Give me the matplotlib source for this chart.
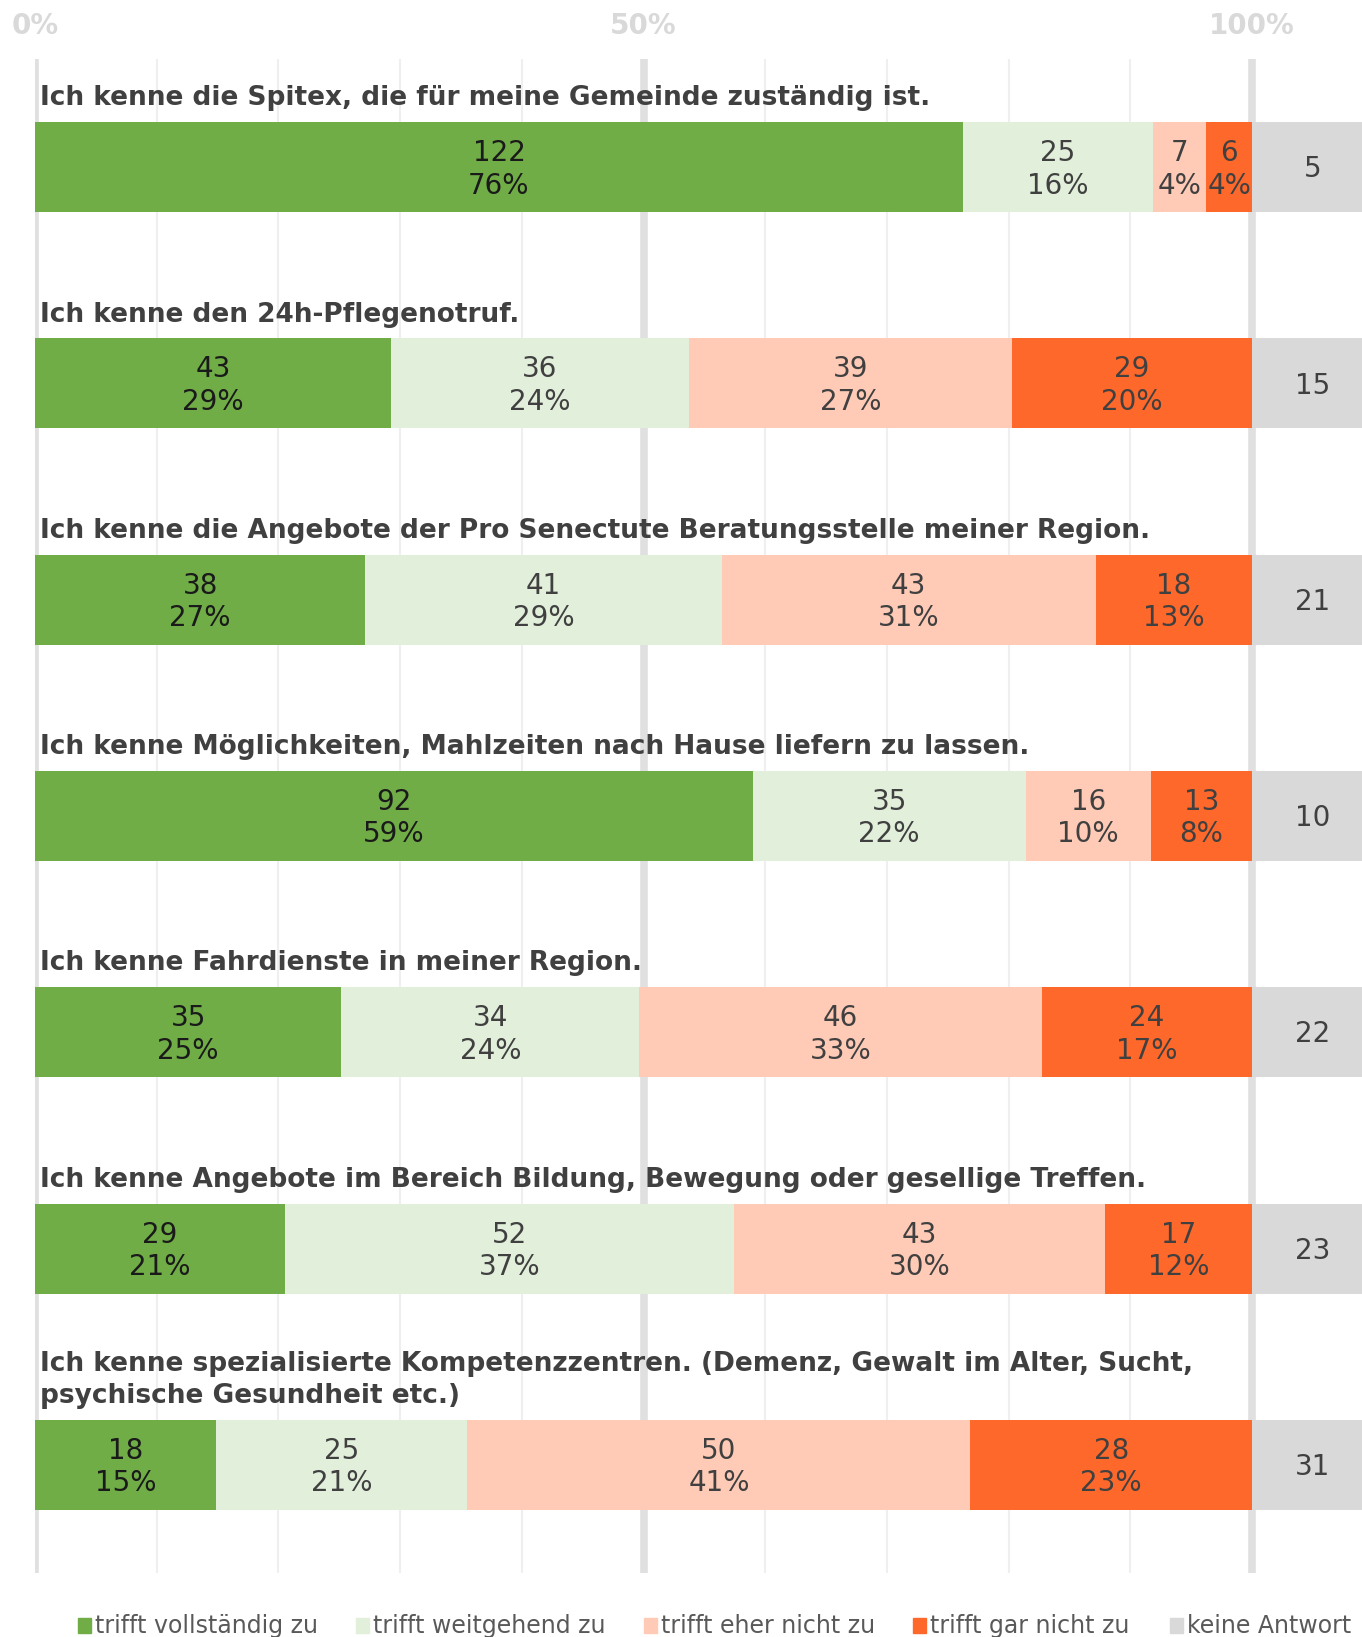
import matplotlib.pyplot as plt
from matplotlib.patches import Rectangle

# Daten
fragen = [
    "Ich kenne die Spitex, die für meine Gemeinde zuständig ist.",
    "Ich kenne den 24h-Pflegenotruf.",
    "Ich kenne die Angebote der Pro Senectute Beratungsstelle meiner Region.",
    "Ich kenne Möglichkeiten, Mahlzeiten nach Hause liefern zu lassen.",
    "Ich kenne Fahrdienste in meiner Region.",
    "Ich kenne Angebote im Bereich Bildung, Bewegung oder gesellige Treffen.",
    "Ich kenne spezialisierte Kompetenzzentren. (Demenz, Gewalt im Alter, Sucht,\npsychische Gesundheit etc.)",
]
vollstaendig = [122, 43, 38, 92, 35, 29, 18]
weitgehend = [25, 36, 41, 35, 34, 52, 25]
eher_nicht = [7, 39, 43, 16, 46, 43, 50]
gar_nicht = [6, 29, 18, 13, 24, 17, 28]
keine_antwort = [5, 15, 21, 10, 22, 23, 31]

kategorien = ["trifft vollständig zu", "trifft weitgehend zu", "trifft eher nicht zu",
              "trifft gar nicht zu", "keine Antwort"]
farben = ["#70ad47", "#e2efda", "#ffcbb7", "#ff682b", "#d9d9d9"]
textfarben = ["#1a1a1a", "#404040", "#404040", "#404040", "#404040"]

W, H = 1362, 1637
fig = plt.figure(figsize=(W / 100, H / 100), dpi=100)
# Achse: 0% bei x=35px, 100% bei x=1252px
x0, px_pro_prozent = 35, 12.17
xmax = (W - x0) / px_pro_prozent
ax_top, ax_bot = 59, 1573
ax = fig.add_axes([x0 / W, 1 - ax_bot / H, 1 - x0 / W, (ax_bot - ax_top) / H])

n = len(fragen)
hoehe = 0.416
serien = [vollstaendig, weitgehend, eher_nicht, gar_nicht]
for i in range(n):
    summe = sum(s[i] for s in serien)
    links = 0
    for k, s in enumerate(serien):
        breite = s[i] / summe * 100
        ax.barh(i, breite, left=links, height=hoehe, color=farben[k], zorder=2)
        ax.text(links + breite / 2, i + 0.01, f"{s[i]}\n{round(s[i] / summe * 100)}%",
                ha='center', va='center', fontsize=20, color=textfarben[k],
                linespacing=1.2, zorder=3)
        links += breite
    # keine Antwort: feste Breite rechts von 100%
    ax.barh(i, 10, left=100, height=hoehe, color=farben[4], zorder=2)
    ax.text(105, i + 0.01, str(keine_antwort[i]), ha='center', va='center',
            fontsize=20, color=textfarben[4], zorder=3)
    # Fragetitel
    ax.text(0.45, i - hoehe / 2 - 0.05, fragen[i], ha='left', va='bottom',
            fontsize=19, fontweight='bold', color='#404040', linespacing=1.3)

ax.set_xlim(0, xmax)
ax.set_ylim(n - 0.5, -0.5)
ax.set_xticks([0, 50, 100])
ax.set_xticklabels(["0%", "50%", "100%"])
ax.set_xticks(range(10, 100, 10), minor=True)
ax.xaxis.tick_top()
ax.tick_params(axis='x', which='both', length=0, pad=14, labelsize=20,
               labelcolor='#d9d9d9')
for lbl in ax.get_xticklabels():
    lbl.set_fontweight('bold')
ax.set_yticks([])
ax.grid(axis='x', which='major', color='#e0e0e0', linewidth=5.5, zorder=0)
ax.grid(axis='x', which='minor', color='#efefef', linewidth=1.5, zorder=0)
ax.set_axisbelow(True)
for sp in ax.spines.values():
    sp.set_visible(False)

# Legende
leg_x = [78, 356, 644, 913, 1170]
leg_y = 1 - 1626 / H
for k, lab in enumerate(kategorien):
    fig.patches.append(Rectangle((leg_x[k] / W, leg_y - 7 / H), 13 / W, 15 / H,
                                 transform=fig.transFigure, color=farben[k]))
    fig.text((leg_x[k] + 17) / W, leg_y, lab, ha='left', va='center',
             fontsize=17, color='#595959')

plt.savefig('out.png', dpi=100)
